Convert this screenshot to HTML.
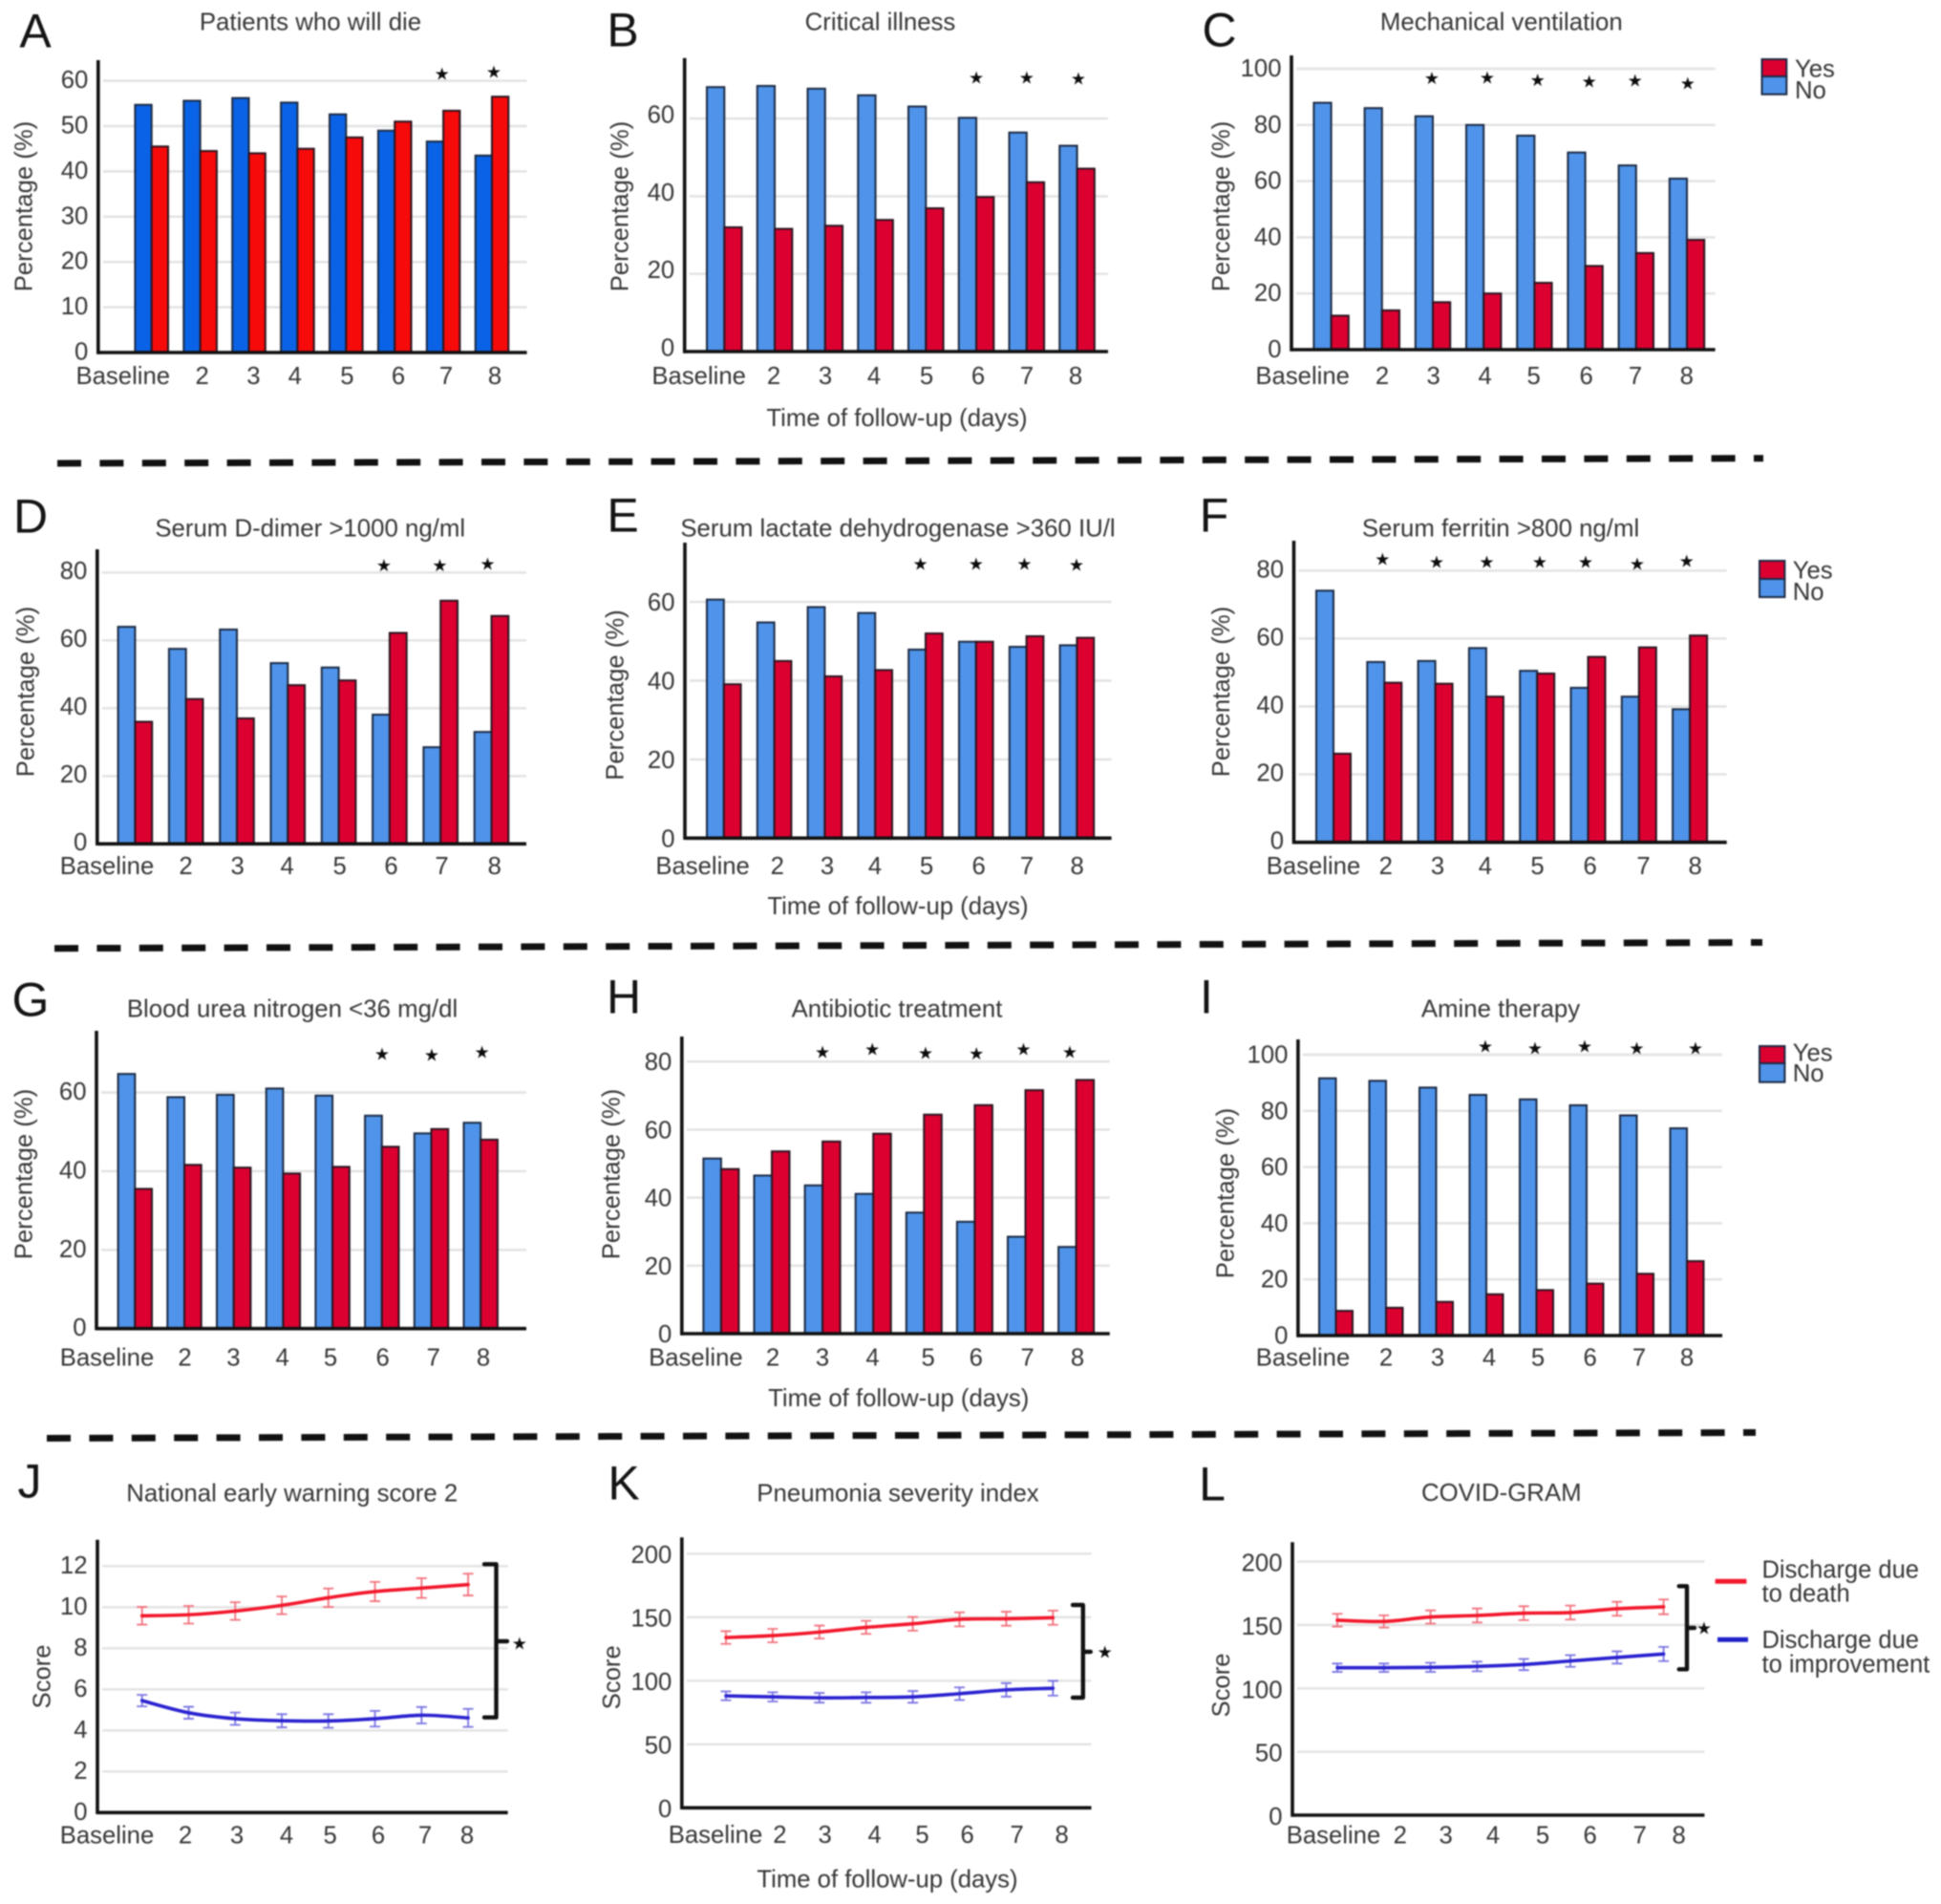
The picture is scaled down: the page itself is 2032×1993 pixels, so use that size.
<!DOCTYPE html>
<html lang="en">
<head>
<meta charset="utf-8">
<title>COVID-19 follow-up outcomes by discharge status</title>
<style>
  html, body { margin: 0; padding: 0; background: #fff; }
  #figure { display: block; width: 2032px; height: 1993px; filter: blur(0.7px); }
  text { font-family: "Liberation Sans", Arial, sans-serif; fill: #363636; }
  .star { font-family: "DejaVu Sans", sans-serif; fill: #0c0c0c; }
  .letter { fill: #141414; }
</style>
</head>
<body>
<svg id="figure" xmlns="http://www.w3.org/2000/svg" width="2032" height="1993" viewBox="0 0 2032 1993">
  <rect x="0" y="0" width="2032" height="1993" fill="#ffffff"/>
  <line x1="60" y1="485" x2="1846" y2="479.7" stroke="#111" stroke-width="7" stroke-dasharray="25 19.4"/>
  <line x1="57" y1="992.7" x2="1845" y2="986.5" stroke="#111" stroke-width="7" stroke-dasharray="25 19.4"/>
  <line x1="49" y1="1505.5" x2="1838" y2="1499.5" stroke="#111" stroke-width="7" stroke-dasharray="25 19.4"/>
</svg>
<script>
// ---------- chart data ----------
const categories = ['Baseline', '2', '3', '4', '5', '6', '7', '8'];

const ticks60by10 = [0, 10, 20, 30, 40, 50, 60];
const ticks60by20 = [0, 20, 40, 60];
const ticks80by20 = [0, 20, 40, 60, 80];
const ticks100by20 = [0, 20, 40, 60, 80, 100];
const ticks12by2 = [0, 2, 4, 6, 8, 10, 12];
const ticks200by50 = [0, 50, 100, 150, 200];

const dieNo = [54.7, 55.6, 56.2, 55.2, 52.6, 49.0, 46.6, 43.5];
const dieYes = [45.5, 44.5, 44.0, 45.0, 47.5, 51.0, 53.4, 56.5];
const dieStars = ['7', '8'];

const criticalNo = [68.1, 68.4, 67.7, 66.0, 63.1, 60.2, 56.4, 53.0];
const criticalYes = [32.0, 31.6, 32.4, 33.9, 36.9, 39.8, 43.6, 47.1];
const criticalStars = ['6', '7', '8'];

const ventilationNo = [87.9, 86.0, 83.1, 80.0, 76.2, 70.2, 65.6, 60.9];
const ventilationYes = [12.1, 14.0, 16.9, 20.0, 23.8, 29.8, 34.4, 39.1];
const ventilationStars = ['3', '4', '5', '6', '7', '8'];

const dimerNo = [64.0, 57.5, 63.2, 53.3, 52.0, 38.1, 28.5, 33.0];
const dimerYes = [36.0, 42.7, 37.0, 46.8, 48.2, 62.2, 71.7, 67.2];
const dimerStars = ['6', '7', '8'];

const ldhNo = [60.6, 54.8, 58.7, 57.2, 47.9, 49.9, 48.6, 49.0];
const ldhYes = [39.1, 45.0, 41.1, 42.7, 52.0, 49.9, 51.3, 50.9];
const ldhStars = ['5', '6', '7', '8'];

const ferritinNo = [74.1, 53.1, 53.4, 57.2, 50.5, 45.5, 42.9, 39.2];
const ferritinYes = [26.1, 47.0, 46.7, 42.9, 49.7, 54.6, 57.4, 60.9];
const ferritinStars = ['2', '3', '4', '5', '6', '7', '8'];

const ureaNo = [64.7, 58.8, 59.4, 61.0, 59.2, 54.1, 49.6, 52.3];
const ureaYes = [35.5, 41.6, 40.9, 39.4, 41.1, 46.2, 50.7, 48.0];
const ureaStars = ['6', '7', '8'];

const antibioticNo = [51.5, 46.5, 43.6, 41.1, 35.6, 32.9, 28.5, 25.5];
const antibioticYes = [48.4, 53.6, 56.5, 58.8, 64.4, 67.2, 71.6, 74.6];
const antibioticStars = ['3', '4', '5', '6', '7', '8'];

const amineNo = [91.6, 90.7, 88.3, 85.7, 84.1, 82.0, 78.4, 73.8];
const amineYes = [8.8, 9.9, 12.0, 14.7, 16.2, 18.5, 22.0, 26.5];
const amineStars = ['4', '5', '6', '7', '8'];

const newsDeath = [9.58, 9.63, 9.81, 10.09, 10.46, 10.76, 10.93, 11.1];
const newsDeathErr = [0.43, 0.43, 0.43, 0.43, 0.45, 0.47, 0.48, 0.53];
const newsImproved = [5.45, 4.86, 4.57, 4.47, 4.46, 4.57, 4.74, 4.61];
const newsImprovedErr = [0.28, 0.29, 0.30, 0.32, 0.33, 0.38, 0.40, 0.44];

const psiDeath = [134, 135.5, 138.3, 142, 144.8, 148.3, 148.8, 149.6];
const psiDeathErr = [5, 5.3, 5.1, 5.1, 5.4, 5.5, 5.5, 5.6];
const psiImproved = [88.1, 87.3, 86.6, 86.8, 87.3, 89.8, 92.8, 94.1];
const psiImprovedErr = [3.5, 3.6, 3.8, 4.1, 4.6, 5, 5.3, 5.8];

const gramDeath = [153.8, 152.8, 156.3, 157.5, 159.3, 159.8, 162.8, 164.3];
const gramDeathErr = [5, 4.8, 5.2, 5.5, 5.5, 5.5, 5.5, 5.8];
const gramImproved = [116.3, 116.3, 116.6, 117.3, 118.8, 121.6, 124.4, 127.1];
const gramImprovedErr = [3.3, 3.3, 3.6, 3.8, 4.4, 4.6, 4.8, 5.6];

// ---------- layout ----------
const barPanels = [
  { id: 'a', letter: 'A', lx: 37, ly: 32, title: 'Patients who will die', tx: 325, ty: 22.7, axisX: 102.8, top: 63, base: 369, unit: 4.74, right: 551.6, barX: 141.4, barW: 17.3, step: 50.9, labelY: 393, labelX: [128.8, 211.6, 265.4, 308.8, 363.4, 417, 467, 518], yTitleX: 24.5, yTitleY: 216, tickDy: -1.5, starY: 76, starDx: [-1.4, 2], starDy: [1, -1], no: dieNo, yes: dieYes, stars: dieStars, ticks: ticks60by10, noColor: '#0a63e6', yesColor: '#f70a0a' },
  { id: 'b', letter: 'B', lx: 652, ly: 31, title: 'Critical illness', tx: 921.5, ty: 22.7, axisX: 716.7, top: 60.7, base: 368, unit: 4.065, right: 1160, barX: 740, barW: 18.3, step: 52.75, labelY: 393, labelX: [731.7, 810, 864, 915, 970, 1024, 1075, 1126], yTitleX: 648.5, yTitleY: 216, tickDy: -4.5, starY: 81, starDx: [0, 0, 1.4], starDy: [0, 0, 1], no: criticalNo, yes: criticalYes, stars: criticalStars, ticks: ticks60by20, xTitleX: 939, xTitleY: 437 },
  { id: 'c', letter: 'C', lx: 1276.5, ly: 31, title: 'Mechanical ventilation', tx: 1571.8, ty: 22.7, axisX: 1352, top: 58, base: 366, unit: 2.94, right: 1795.6, barX: 1375.4, barW: 18.2, step: 53.2, labelY: 393, labelX: [1363.7, 1447, 1500.6, 1554.6, 1605.6, 1660.7, 1712, 1765.8], yTitleX: 1278, yTitleY: 216, tickDy: -1, starY: 84, starDx: [-1, 3.7, 3.3, 4.1, -1.1, 0.8], starDy: [-2.3, -3, -0.3, 1, 0, 3], no: ventilationNo, yes: ventilationYes, stars: ventilationStars, ticks: ticks100by20, legend: { x: 1844.5, w: 25.8, y: 62, h1: 18, h2: 18.7, textX: 1879, yesY: 71.7, noY: 94 } },
  { id: 'd', letter: 'D', lx: 32, ly: 540, title: 'Serum D-dimer >1000 ng/ml', tx: 324.7, ty: 552.7, axisX: 101.8, top: 575, base: 883.3, unit: 3.55, right: 551, barX: 123.6, barW: 17.8, step: 53.3, labelY: 906, labelX: [112, 194.5, 248.7, 300.7, 355.6, 409.5, 462.5, 517.8], yTitleX: 26.5, yTitleY: 724, tickDy: -2.5, starY: 591.5, starDx: [-6, -0.8, -4], starDy: [0, 0, -1.5], no: dimerNo, yes: dimerYes, stars: dimerStars, ticks: ticks80by20 },
  { id: 'e', letter: 'E', lx: 652, ly: 539, title: 'Serum lactate dehydrogenase >360 IU/l', tx: 940, ty: 552.7, axisX: 717, top: 568, base: 877.3, unit: 4.12, right: 1163.6, barX: 740, barW: 17.8, step: 52.8, labelY: 906, labelX: [735.6, 813.8, 866, 916, 970, 1024.7, 1075, 1127.6], yTitleX: 643.5, yTitleY: 727.5, tickDy: 0, starY: 590, starDx: [-5.4, 0, -2.2, -0.4], starDy: [0, 0, 0, 1], no: ldhNo, yes: ldhYes, stars: ldhStars, ticks: ticks60by20, xTitleX: 940, xTitleY: 948 },
  { id: 'f', letter: 'F', lx: 1271, ly: 539, title: 'Serum ferritin >800 ng/ml', tx: 1571, ty: 552.7, axisX: 1354.5, top: 566, base: 881.7, unit: 3.555, right: 1807.7, barX: 1378, barW: 18, step: 53.3, labelY: 906, labelX: [1375, 1450.8, 1505, 1554.9, 1609.5, 1664.6, 1720.5, 1774.7], yTitleX: 1278, yTitleY: 724, tickDy: -2, starY: 588, starDx: [-2, 1.4, 0.6, 2.7, -2.5, -1.8, -3.4], starDy: [-3, 0, 0, 0, 0, 2, -1], no: ferritinNo, yes: ferritinYes, stars: ferritinStars, ticks: ticks80by20, legend: { x: 1842, w: 26.4, y: 587, h1: 19, h2: 19, textX: 1876.7, yesY: 596.7, noY: 619 } },
  { id: 'g', letter: 'G', lx: 32, ly: 1046, title: 'Blood urea nitrogen <36 mg/dl', tx: 306, ty: 1055.7, axisX: 101, top: 1079, base: 1390.7, unit: 4.12, right: 551, barX: 123.6, barW: 17.7, step: 51.7, labelY: 1420.7, labelX: [112, 193.5, 244.4, 295.6, 346, 400.7, 453.8, 506], yTitleX: 24.5, yTitleY: 1229, tickDy: -1.5, starY: 1103, starDx: [0.2, 0.5, 1.4], starDy: [0, 1, -2], no: ureaNo, yes: ureaYes, stars: ureaStars, ticks: ticks60by20 },
  { id: 'h', letter: 'H', lx: 653, ly: 1043, title: 'Antibiotic treatment', tx: 939, ty: 1055.7, axisX: 713.8, top: 1085, base: 1396, unit: 3.56, right: 1161.8, barX: 736.4, barW: 18.5, step: 53.1, labelY: 1420.7, labelX: [728.4, 809, 861, 913.5, 971.6, 1021.8, 1075.6, 1128], yTitleX: 639.3, yTitleY: 1229, tickDy: 0, starY: 1101, starDx: [0, -1, 1.7, 1.8, -2, -6.6], starDy: [0, -3, 1, 1.7, -3, 0], no: antibioticNo, yes: antibioticYes, stars: antibioticStars, ticks: ticks80by20, xTitleX: 940.7, xTitleY: 1463 },
  { id: 'i', letter: 'I', lx: 1263, ly: 1043, title: 'Amine therapy', tx: 1571, ty: 1055.7, axisX: 1358.9, top: 1088, base: 1398, unit: 2.94, right: 1803, barX: 1381, barW: 17.5, step: 52.5, labelY: 1420.7, labelX: [1364, 1451, 1505, 1559, 1610, 1664.6, 1716, 1766], yTitleX: 1282.4, yTitleY: 1249, tickDy: -0.5, starY: 1096, starDx: [-1, -1.5, -2, 0, 9], starDy: [-1, 1, -1, 1, 1], no: amineNo, yes: amineYes, stars: amineStars, ticks: ticks100by20, legend: { x: 1842, w: 26.4, y: 1095, h1: 18, h2: 19.7, textX: 1876.7, yesY: 1101.7, noY: 1123 } }
];

const linePanels = [
  { id: 'j', letter: 'J', lx: 31, ly: 1550, title: 'National early warning score 2', tx: 305.7, ty: 1562.7, axisX: 102, top: 1611.7, base: 1897.3, unit: 21.5, right: 531.6, x0: 148.7, step: 48.77, labelY: 1920.7, labelX: [112, 194, 248, 300, 345.6, 396, 445, 489], yTitleX: 43.5, yTitleY: 1755, tickDy: -1.5, ticks: ticks12by2, death: newsDeath, deathErr: newsDeathErr, improved: newsImproved, improvedErr: newsImprovedErr, bracket: { x: 519.5, top: 1637.3, bottom: 1797.7, left: 507, midY: 1718, midX: 531, starX: 543.8, starY: 1720 } },
  { id: 'k', letter: 'K', lx: 653, ly: 1552, title: 'Pneumonia severity index', tx: 940, ty: 1562.3, axisX: 713.8, top: 1609.3, base: 1892.3, unit: 1.33, right: 1142.5, x0: 760, step: 48.9, labelY: 1920, labelX: [749, 816.4, 863.6, 915.6, 965.5, 1012.7, 1064.7, 1111.6], yTitleX: 640, yTitleY: 1755.8, tickDy: 0.5, ticks: ticks200by50, death: psiDeath, deathErr: psiDeathErr, improved: psiImproved, improvedErr: psiImprovedErr, xTitleX: 929, xTitleY: 1966.7, bracket: { x: 1133.8, top: 1680, bottom: 1777, left: 1123, midY: 1729, midX: 1141.8, starX: 1156.7, starY: 1729 } },
  { id: 'l', letter: 'L', lx: 1269, ly: 1553, title: 'COVID-GRAM', tx: 1571.8, ty: 1562, axisX: 1353, top: 1614.3, base: 1900, unit: 1.327, right: 1784.4, x0: 1400, step: 48.8, labelY: 1920.7, labelX: [1396, 1465.8, 1513.7, 1563, 1615, 1664.7, 1716.8, 1757.7], yTitleX: 1278, yTitleY: 1764, tickDy: 1, ticks: ticks200by50, death: gramDeath, deathErr: gramDeathErr, improved: gramImproved, improvedErr: gramImprovedErr, bracket: { x: 1766, top: 1660.3, bottom: 1747.3, left: 1757.7, midY: 1704, midX: 1774, starX: 1784, starY: 1704 } }
];

const FONT = 25.7;
const STAR_SIZE = 18;
const NS = 'http://www.w3.org/2000/svg';
const root = document.getElementById('figure');

function mk(parent, tag, attrs, content) {
  const el = document.createElementNS(NS, tag);
  for (const k in attrs) el.setAttribute(k, attrs[k]);
  if (content !== undefined) el.textContent = content;
  parent.appendChild(el);
  return el;
}

function centerText(parent, x, y, str, size, extra) {
  return mk(parent, 'text', Object.assign({ x: x, y: y + size * 0.35, 'font-size': size, 'text-anchor': 'middle' }, extra || {}), str);
}

function drawFrame(p, g) {
  const yScale = v => p.base - v * p.unit;

  const letter = centerText(g, p.lx, p.ly, p.letter, 50, { class: 'letter' });
  
  

  const title = centerText(g, p.tx, p.ty, p.title, 25.8);
  
  

  p.ticks.forEach(t => {
    if (t !== 0) {
      const grid = mk(g, 'line', { x1: p.axisX + 5, x2: p.right, y1: yScale(t), y2: yScale(t), stroke: '#e2e2e2', 'stroke-width': 2.4 });
      
      
    }
    const label = mk(g, 'text', { x: p.axisX - 10.5, y: yScale(t) + p.tickDy + FONT * 0.35, 'font-size': FONT, 'text-anchor': 'end' }, String(t));
    
    
  });

  categories.forEach((c, i) => {
    const label = centerText(g, p.labelX[i], p.labelY, c, FONT);
    
    
  });

  const yTitle = mk(g, 'text', { transform: 'translate(' + (p.yTitleX + FONT * 0.35) + ' ' + p.yTitleY + ') rotate(-90)', 'font-size': FONT, 'text-anchor': 'middle' }, p.death ? 'Score' : 'Percentage (%)');
  
  

  if (p.xTitleX) {
    const xTitle = centerText(g, p.xTitleX, p.xTitleY, 'Time of follow-up (days)', FONT);
    
    
  }
}

function drawAxes(p, g) {
  const yAxis = mk(g, 'line', { x1: p.axisX, x2: p.axisX, y1: p.top, y2: p.base + 1.7, stroke: '#111', 'stroke-width': 3.6 });
  
  
  const xAxis = mk(g, 'line', { x1: p.axisX, x2: p.right, y1: p.base, y2: p.base, stroke: '#111', 'stroke-width': 3.6 });
  
  
}

// ---------- bar panels ----------
barPanels.forEach(p => {
  const g = mk(root, 'g', {});
  
  
  drawFrame(p, g);

  const yScale = v => p.base - v * p.unit;
  const xScale = i => p.barX + i * p.step;
  const noColor = p.noColor || '#4f94ea';
  const yesColor = p.yesColor || '#dc0030';

  categories.forEach((c, i) => {
    const no = mk(g, 'rect', { x: xScale(i), y: yScale(p.no[i]), width: p.barW, height: p.base - yScale(p.no[i]), fill: noColor, stroke: '#1b2a44', 'stroke-width': 2 });
    
    
    const yes = mk(g, 'rect', { x: xScale(i) + p.barW, y: yScale(p.yes[i]), width: p.barW, height: p.base - yScale(p.yes[i]), fill: yesColor, stroke: '#2a1420', 'stroke-width': 2 });
    
    
  });

  p.stars.forEach((day, s) => {
    const i = categories.indexOf(day);
    const star = centerText(g, xScale(i) + p.barW + p.starDx[s], p.starY + p.starDy[s], '\u2605', STAR_SIZE, { class: 'star' });
    
    
  });

  drawAxes(p, g);

  if (p.legend) {
    const L = p.legend;
    const lg = mk(g, 'g', {});
    
    
    const yesSwatch = mk(lg, 'rect', { x: L.x, y: L.y, width: L.w, height: L.h1, fill: '#dc0030', stroke: '#1b2a44', 'stroke-width': 2 });
    
    
    const noSwatch = mk(lg, 'rect', { x: L.x, y: L.y + L.h1, width: L.w, height: L.h2, fill: '#4f94ea', stroke: '#1b2a44', 'stroke-width': 2 });
    
    
    const yesText = mk(lg, 'text', { x: L.textX, y: L.yesY + FONT * 0.35, 'font-size': FONT }, 'Yes');
    
    
    const noText = mk(lg, 'text', { x: L.textX, y: L.noY + FONT * 0.35, 'font-size': FONT }, 'No');
    
    
  }
});

// ---------- line panels ----------
function smoothPath(pts) {
  let d = 'M' + pts[0][0] + ' ' + pts[0][1];
  for (let i = 0; i < pts.length - 1; i++) {
    const p0 = pts[Math.max(i - 1, 0)], p1 = pts[i], p2 = pts[i + 1], p3 = pts[Math.min(i + 2, pts.length - 1)];
    const c1x = p1[0] + (p2[0] - p0[0]) / 6, c1y = p1[1] + (p2[1] - p0[1]) / 6;
    const c2x = p2[0] - (p3[0] - p1[0]) / 6, c2y = p2[1] - (p3[1] - p1[1]) / 6;
    d += ' C' + c1x + ' ' + c1y + ' ' + c2x + ' ' + c2y + ' ' + p2[0] + ' ' + p2[1];
  }
  return d;
}

linePanels.forEach(p => {
  const g = mk(root, 'g', {});
  
  
  drawFrame(p, g);

  const yScale = v => p.base - v * p.unit;
  const xScale = i => p.x0 + i * p.step;

  [
    { key: 'death', values: p.death, errs: p.deathErr, color: '#f2182c', errColor: '#f2717c' },
    { key: 'improvement', values: p.improved, errs: p.improvedErr, color: '#2a22cf', errColor: '#7a74e2' }
  ].forEach(s => {
    s.values.forEach((v, i) => {
      const x = xScale(i);
      const hi = yScale(v + s.errs[i]);
      const lo = yScale(v - s.errs[i]);
      const err = mk(g, 'path', { d: 'M' + (x - 5.5) + ' ' + hi + ' H' + (x + 5.5) + ' M' + x + ' ' + hi + ' V' + lo + ' M' + (x - 5.5) + ' ' + lo + ' H' + (x + 5.5), fill: 'none', stroke: s.errColor, 'stroke-width': 1.8 });
      
      
    });
    const line = mk(g, 'path', { d: smoothPath(s.values.map((v, i) => [xScale(i), yScale(v)])), fill: 'none', stroke: s.color, 'stroke-width': 3.6, 'stroke-linecap': 'round' });
    
    
  });

  drawAxes(p, g);

  const B = p.bracket;
  const bracket = mk(g, 'path', { d: 'M' + B.left + ' ' + B.top + ' H' + B.x + ' V' + B.bottom + ' H' + B.left + ' M' + B.x + ' ' + B.midY + ' H' + B.midX, fill: 'none', stroke: '#111', 'stroke-width': 4.4, 'stroke-linecap': 'round', 'stroke-linejoin': 'round' });
  
  
  const star = centerText(g, B.starX, B.starY, '\u2605', STAR_SIZE, { class: 'star' });
  
  
});

// ---------- line legend ----------
const lineLegend = mk(root, 'g', {});


const deathKey = mk(lineLegend, 'line', { x1: 1795.6, x2: 1828.4, y1: 1655.3, y2: 1655.3, stroke: '#f2182c', 'stroke-width': 5 });


const improvedKey = mk(lineLegend, 'line', { x1: 1798, x2: 1830, y1: 1716.3, y2: 1716.3, stroke: '#1f22c8', 'stroke-width': 5 });


[['Discharge due', 1642.7], ['to death', 1667.7], ['Discharge due', 1716], ['to improvement', 1741.7]].forEach((row, i) => {
  const t = mk(lineLegend, 'text', { x: 1844.5, y: row[1] + FONT * 0.35, 'font-size': 25.5 }, row[0]);
  
  
});
</script>
</body>
</html>
